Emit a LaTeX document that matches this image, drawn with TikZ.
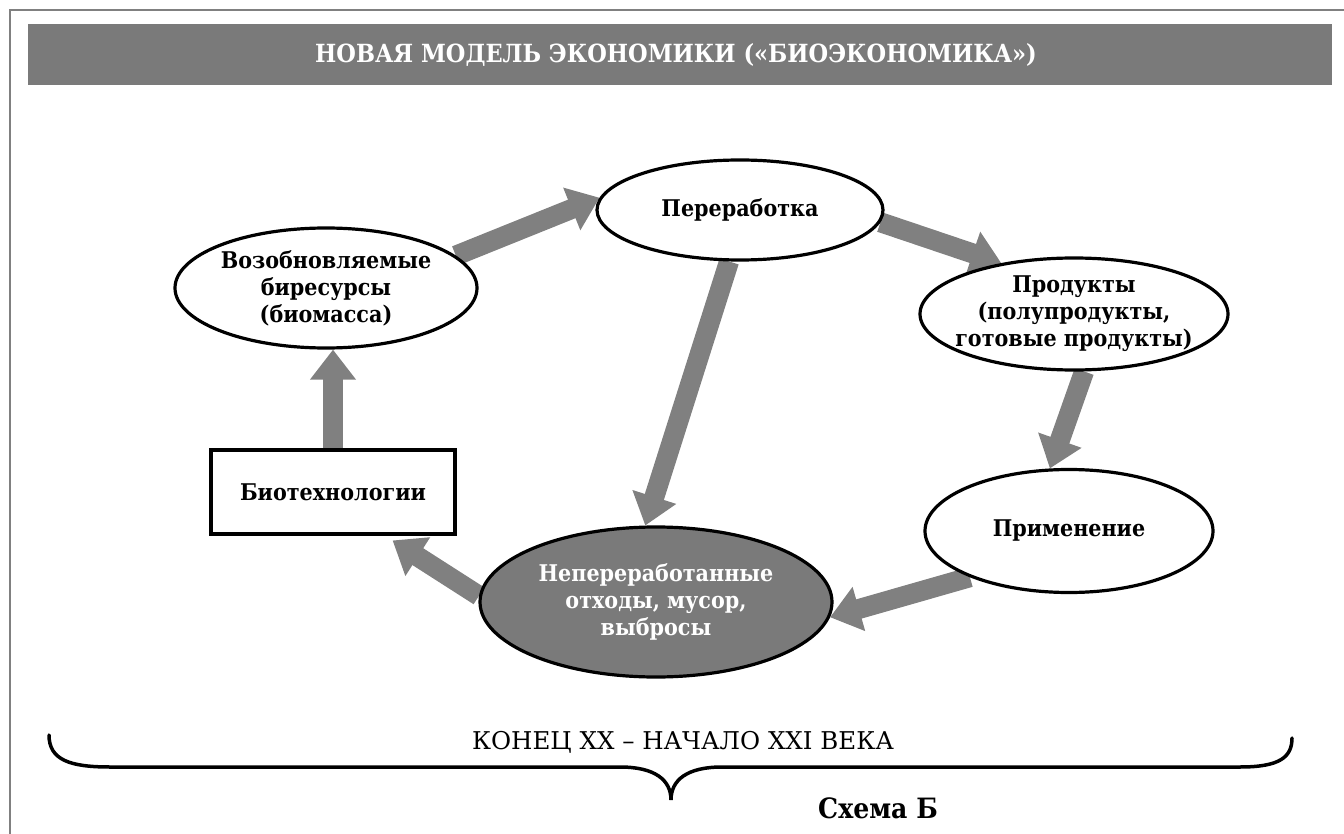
\documentclass[tikz,border=0pt]{standalone}
\usepackage{fontspec}
\setmainfont{DejaVu Serif}[FakeStretch=0.9]
\newfontfamily\erafont{DejaVu Serif}
\usetikzlibrary{arrows.meta,shapes.geometric}
\pgfdeclarelayer{bg}
\pgfsetlayers{bg,main}
\definecolor{bandgray}{HTML}{7A7A7A}
\definecolor{arrowgray}{HTML}{808080}

\begin{document}
\begin{tikzpicture}[x=1pt, y=-1pt,
    every node/.style={font=\fontsize{23}{27}\selectfont\bfseries, align=center, inner sep=0pt},
    stage/.style={ellipse, draw, line width=3.2pt, fill=white, inner xsep=-40pt},
    flow/.style={draw=arrowgray, line width=20pt, -{Triangle[length=30pt,width=44pt]}}]
  \useasboundingbox (0,0) rectangle (1344,834);
  \draw[gray, line width=2pt] (10,834) -- (10,10) -- (1344,10);
  \fill[bandgray] (28,24) rectangle (1332,85);
  \node[white, font=\fontsize{25}{27}\selectfont\bfseries] (title) at (676,55) {НОВАЯ МОДЕЛЬ ЭКОНОМИКИ («БИОЭКОНОМИКА»)};
  \node[stage, minimum width=286, minimum height=100] (pererab) at (740,210) {Переработка};
  \node[stage, minimum width=302, minimum height=120] (vozob) at (326,288) {Возобновляемые\\биресурсы\\(биомасса)};
  \node[stage, minimum width=308, minimum height=112] (produkt) at (1074,314) {Продукты\\(полупродукты,\\готовые продукты)};
  \node[stage, minimum width=288, minimum height=123] (primen) at (1069,531) {Применение};
  \node[stage, fill=bandgray, text=white, minimum width=352, minimum height=150] (otkhody) at (656,602) {Непереработанные\\отходы, мусор,\\выбросы};
  \node[draw, line width=3.2pt, fill=white, minimum width=244, minimum height=84] (biotech) at (333,492) {Биотехнологии};
  \begin{pgfonlayer}{bg}
    \foreach \a/\b in {vozob.14/pererab.175, pererab.-5/produkt.145, produkt.-80/primen.107,
                       primen.205/otkhody.-5, pererab.-102/otkhody.98}
      \draw[flow] (\a) -- (\b);
    \draw[flow, shorten >=9pt] (otkhody.178) -- (biotech.-40);
    \draw[flow] (biotech.north) -- (biotech.north |- vozob.south);
  \end{pgfonlayer}
  \draw[line width=3.5pt, line cap=round] (49,735) .. controls (49,760) and (70,767) .. (110,767) -- (620,767)
    .. controls (655,767) and (671,780) .. (671,800) .. controls (671,780) and (687,767) .. (722,767)
    -- (1240,767) .. controls (1280,767) and (1292,757) .. (1292,738);
  \node[font=\fontsize{24.5}{26}\selectfont\erafont] (era) at (683,742) {КОНЕЦ XX – НАЧАЛО XXI ВЕКА};
  \node[font=\fontsize{28}{30}\selectfont\bfseries] (scheme) at (878,808) {Схема Б};
\end{tikzpicture}
\end{document}
